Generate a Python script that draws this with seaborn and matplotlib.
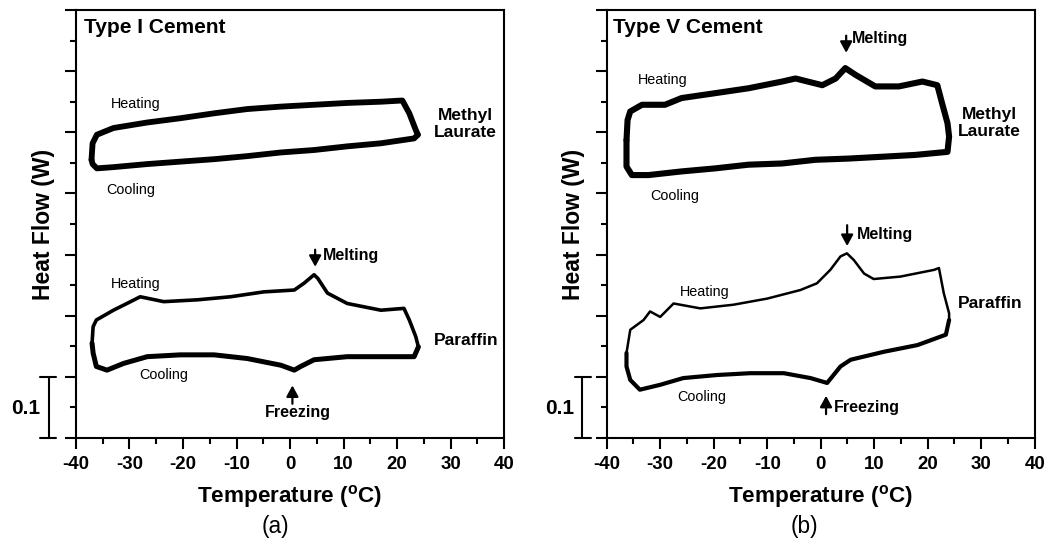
import numpy as np
import pandas as pd
import matplotlib
matplotlib.use("Agg")
import matplotlib.pyplot as plt
import matplotlib.transforms as mtransforms
import seaborn as sns

# ---------------- data (Temperature in degC, heat flow in W, offset traces) ----------------
# Type I cement, methyl laurate
t1_ml_heat_T = [-37.1, -36.9, -36.1, -33.0, -26.7, -20.5, -14.2, -8.0, -1.7, 4.5, 10.7, 17.0, 21.0, 22.3, 23.5, 23.9]
t1_ml_heat_W = [0.455, 0.482, 0.496, 0.507, 0.516, 0.523, 0.531, 0.538, 0.542, 0.545, 0.548, 0.550, 0.552, 0.531, 0.504, 0.496]
t1_ml_cool_T = [23.9, 23.2, 17.0, 10.7, 4.5, -1.7, -8.0, -14.2, -20.5, -26.7, -33.0, -36.1, -36.9, -37.1]
t1_ml_cool_W = [0.496, 0.490, 0.482, 0.477, 0.471, 0.467, 0.461, 0.456, 0.452, 0.448, 0.443, 0.441, 0.448, 0.455]

# Type I cement, paraffin
t1_pa_heat_T = [-37.0, -36.8, -36.2, -33.0, -29.8, -28.0, -23.6, -17.3, -11.1, -4.9, 0.8, 2.6, 4.5, 5.2, 7.0, 10.7, 17.0, 21.3, 22.3, 23.5, 24.0]
t1_pa_heat_W = [0.155, 0.182, 0.193, 0.209, 0.223, 0.231, 0.223, 0.226, 0.231, 0.239, 0.242, 0.253, 0.267, 0.261, 0.237, 0.220, 0.209, 0.212, 0.193, 0.166, 0.149]
t1_pa_cool_T = [24.0, 23.2, 17.0, 10.7, 4.5, 2.0, 0.8, -1.7, -8.0, -14.2, -20.5, -26.7, -31.1, -34.2, -36.2, -36.8, -37.0]
t1_pa_cool_W = [0.149, 0.133, 0.133, 0.133, 0.128, 0.117, 0.111, 0.119, 0.130, 0.136, 0.136, 0.133, 0.122, 0.111, 0.117, 0.139, 0.155]

# Type V cement, methyl laurate
t5_ml_heat_T = [-36.3, -36.1, -35.6, -33.4, -29.1, -26.0, -19.7, -13.5, -7.2, -4.7, 0.3, 2.8, 4.6, 6.5, 10.2, 14.6, 19.0, 21.8, 22.7, 23.7, 24.0]
t5_ml_heat_W = [0.487, 0.520, 0.534, 0.545, 0.545, 0.556, 0.564, 0.572, 0.583, 0.588, 0.577, 0.588, 0.605, 0.594, 0.575, 0.575, 0.583, 0.577, 0.547, 0.515, 0.493]
t5_ml_cool_T = [24.0, 23.7, 17.7, 11.5, 5.2, -1.0, -7.2, -13.5, -19.7, -26.0, -32.2, -35.3, -36.3, -36.3]
t5_ml_cool_W = [0.493, 0.468, 0.463, 0.460, 0.457, 0.455, 0.449, 0.447, 0.441, 0.436, 0.430, 0.430, 0.444, 0.487]

# Type V cement, paraffin
t5_pa_heat_T = [-36.3, -35.6, -33.1, -31.9, -30.0, -27.5, -22.5, -16.3, -10.0, -3.8, -0.7, 1.8, 3.7, 4.9, 6.2, 8.1, 9.9, 14.9, 21.2, 22.1, 23.0, 24.0, 24.0]
t5_pa_heat_W = [0.139, 0.177, 0.193, 0.207, 0.198, 0.220, 0.212, 0.218, 0.228, 0.242, 0.253, 0.275, 0.297, 0.302, 0.291, 0.269, 0.260, 0.264, 0.275, 0.278, 0.237, 0.204, 0.193]
t5_pa_cool_T = [24.0, 23.4, 18.1, 11.8, 5.6, 3.7, 1.2, -1.9, -6.9, -13.2, -19.4, -25.7, -30.0, -33.8, -35.6, -36.3, -36.3]
t5_pa_cool_W = [0.193, 0.169, 0.152, 0.141, 0.128, 0.117, 0.090, 0.098, 0.106, 0.106, 0.103, 0.098, 0.087, 0.079, 0.095, 0.117, 0.139]

x_ticks = [-40, -30, -20, -10, 0, 10, 20, 30, 40]
panel_titles = ["Type I Cement", "Type V Cement"]
panel_tags = ["(a)", "(b)"]

# ---------------- style ----------------
sns.set_theme(style="ticks")
plt.rcParams["font.family"] = ["Liberation Sans", "DejaVu Sans"]
plt.rcParams["mathtext.fontset"] = "custom"
plt.rcParams["mathtext.rm"] = "Liberation Sans"
plt.rcParams["mathtext.bf"] = "Liberation Sans:bold"
for key in ["text.color", "axes.labelcolor", "xtick.color", "ytick.color", "axes.edgecolor"]:
    plt.rcParams[key] = "black"

fig = plt.figure(figsize=(10.45, 5.4), dpi=100)
axL = fig.add_axes([76 / 1045, 102 / 540, 428 / 1045, 428 / 540])
axR = fig.add_axes([606.7 / 1045, 102 / 540, 428 / 1045, 428 / 540])


def seg(ax, T, W, lw):
    df = pd.DataFrame({"T": T, "W": W})
    sns.lineplot(data=df, x="T", y="W", ax=ax, sort=False, estimator=None,
                 color="black", linewidth=lw)


seg(axL, t1_ml_heat_T, t1_ml_heat_W, 4.2)
seg(axL, t1_ml_cool_T, t1_ml_cool_W, 4.2)
seg(axL, t1_pa_heat_T, t1_pa_heat_W, 2.6)
seg(axL, t1_pa_cool_T, t1_pa_cool_W, 3.6)

seg(axR, t5_ml_heat_T, t5_ml_heat_W, 4.4)
seg(axR, t5_ml_cool_T, t5_ml_cool_W, 4.4)
seg(axR, t5_pa_heat_T, t5_pa_heat_W, 1.8)
seg(axR, t5_pa_cool_T, t5_pa_cool_W, 3.0)

for i, ax in enumerate([axL, axR]):
    ax.set_xlim(-40, 40)
    ax.set_ylim(0, 0.7)
    ax.set_xticks(x_ticks)
    ax.set_xticklabels([str(v) for v in x_ticks])
    ax.set_xticks(np.arange(-35, 40, 10), minor=True)
    ax.set_yticks(np.arange(0, 0.71, 0.1))
    ax.set_yticklabels([])
    ax.set_yticks(np.arange(0.05, 0.7, 0.1), minor=True)
    ax.tick_params(axis="both", which="major", direction="out", length=8, width=1.5,
                   color="black", labelcolor="black", labelsize=13.4, pad=5)
    ax.tick_params(axis="both", which="minor", direction="out", length=4, width=1.5,
                   color="black")
    for lbl in ax.get_xticklabels():
        lbl.set_fontweight("bold")
    for s in ax.spines.values():
        s.set_visible(True)
        s.set_linewidth(1.5)
        s.set_color("black")
    ax.set_xlabel(r"Temperature ($\mathbf{^{o}}$C)", fontsize=16.2, fontweight="bold",
                  color="black")
    ax.xaxis.set_label_coords(0.5, -0.105)
    ax.xaxis.label.set_va("top")
    ax.set_ylabel("Heat Flow (W)", fontsize=16.5, fontweight="bold", color="black")
    ax.text(0.019 if i == 0 else 0.015, 0.946, panel_titles[i], transform=ax.transAxes,
            fontsize=15, fontweight="bold", ha="left", va="baseline", color="black")
    ax.set_facecolor("white")

axL.yaxis.set_label_coords(-0.05, 0.5)
axR.yaxis.set_label_coords(-0.05, 0.5)

# scale bars (0.1 W)
for ax, xb, xc0, xc1, xt in [(axL, -0.064, -0.084, -0.046, -0.1185),
                             (axR, -0.0577, -0.075, -0.037, -0.109)]:
    tr = mtransforms.blended_transform_factory(ax.transAxes, ax.transData)
    ax.plot([xb, xb], [0, 0.1], color="black", lw=1.5, transform=tr, clip_on=False)
    ax.plot([xc0, xc1], [0.1, 0.1], color="black", lw=1.5, transform=tr, clip_on=False)
    ax.plot([xc0, xc1], [0, 0], color="black", lw=1.5, transform=tr, clip_on=False)
    ax.text(xt, 0.049, "0.1", transform=tr, fontsize=15, fontweight="bold",
            ha="center", va="center", color="black")

# annotations
reg = dict(fontsize=10.4, ha="center", va="center", color="black")
bold = dict(fontsize=12.5, fontweight="bold", ha="center", va="center", linespacing=1.15,
            color="black")
ann = dict(fontsize=11.5, fontweight="bold", va="center", color="black")
arrow = dict(arrowstyle="-|>,head_length=0.55,head_width=0.3", color="black", lw=1.6,
             shrinkA=0, shrinkB=0, mutation_scale=12)

# left panel
axL.text(-28.9, 0.546, "Heating", **reg)
axL.text(-29.7, 0.406, "Cooling", **reg)
axL.text(32.7, 0.5135, "Methyl\nLaurate", **bold)
axL.text(-28.9, 0.252, "Heating", **reg)
axL.text(-23.6, 0.103, "Cooling", **reg)
axL.text(32.9, 0.160, "Paraffin", **bold)
axL.annotate("", xy=(4.7, 0.280), xytext=(4.7, 0.308), arrowprops=arrow)
axL.text(6.2, 0.298, "Melting", ha="left", **ann)
axL.annotate("", xy=(0.45, 0.086), xytext=(0.45, 0.056), arrowprops=arrow)
axL.text(1.4, 0.042, "Freezing", ha="center", **ann)

# right panel
axR.text(-29.6, 0.5855, "Heating", **reg)
axR.text(-27.3, 0.395, "Cooling", **reg)
axR.text(31.6, 0.5147, "Methyl\nLaurate", **bold)
axR.annotate("", xy=(4.76, 0.630), xytext=(4.76, 0.658), arrowprops=arrow)
axR.text(5.9, 0.654, "Melting", ha="left", **ann)
axR.text(-21.6, 0.238, "Heating", **reg)
axR.text(-22.2, 0.0676, "Cooling", **reg)
axR.text(31.65, 0.2203, "Paraffin", **bold)
axR.annotate("", xy=(4.94, 0.314), xytext=(4.94, 0.348), arrowprops=arrow)
axR.text(6.7, 0.3336, "Melting", ha="left", **ann)
axR.annotate("", xy=(1.0, 0.069), xytext=(1.0, 0.039), arrowprops=arrow)
axR.text(2.4, 0.050, "Freezing", ha="left", **ann)

fig.text(275 / 1045, 1 - 526 / 540, panel_tags[0], fontsize=16.3, ha="center", va="center",
         color="black")
fig.text(804 / 1045, 1 - 526 / 540, panel_tags[1], fontsize=16.3, ha="center", va="center",
         color="black")

fig.savefig("out.png", dpi=100, facecolor="white")
